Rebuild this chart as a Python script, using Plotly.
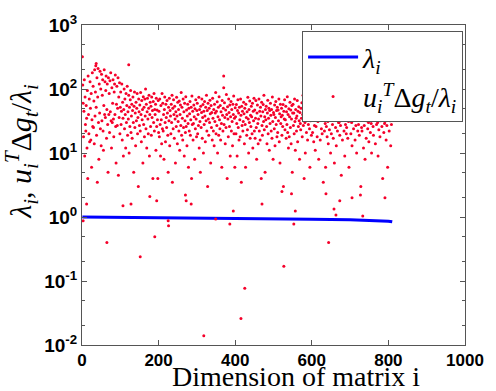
import plotly.graph_objects as go

# Eigenvalue curve (index, value)
lam_idx = [1, 100, 200, 300, 400, 500, 600, 700, 750, 800, 810]
lam_val = [1.0, 0.99, 0.98, 0.97, 0.955, 0.94, 0.925, 0.905, 0.89, 0.86, 0.84]

# Bulk scatter values, one per index 1..810 (rows of 10)
ratio_rows = [
    [320, 115, 60, 18, 45, 140, 9, 75, 28, 22],
    [55, 35, 12, 95, 4, 160, 40, 20, 70, 15],
    [130, 50, 16, 85, 6, 33, 180, 26, 110, 25],
    [65, 14, 200, 38, 90, 230, 52, 19, 150, 3.5],
    [75, 210, 30, 8, 120, 42, 190, 24, 100, 13],
    [170, 32, 80, 140, 22, 11, 55, 200, 40, 130],
    [36, 95, 160, 17, 48, 120, 28, 5, 150, 40],
    [85, 21, 135, 44, 180, 32, 12, 105, 30, 60],
    [140, 34, 18, 90, 120, 40, 165, 26, 7, 58],
    [110, 27, 50, 150, 4.5, 75, 36, 125, 20, 52],
    [90, 28, 45, 120, 16, 62, 35, 9, 48, 100],
    [24, 70, 40, 12, 85, 30, 55, 110, 19, 44],
    [34, 80, 10, 52, 26, 68, 95, 21, 38, 58],
    [17, 46, 75, 30, 5, 54, 90, 25, 42, 13],
    [62, 32, 50, 85, 20, 36, 3, 70, 44, 27],
    [56, 22, 88, 40, 15, 66, 33, 48, 7, 76],
    [28, 52, 18, 70, 38, 100, 24, 58, 12, 44],
    [72, 34, 20, 50, 80, 9, 40, 62, 26, 54],
    [19, 75, 36, 46, 4, 64, 30, 85, 22, 48],
    [40, 58, 11, 72, 26, 47, 33, 4, 66, 21],
    [45, 18, 70, 28, 9, 55, 33, 14, 85, 24],
    [60, 22, 40, 8, 48, 75, 30, 15, 58, 36],
    [25, 66, 42, 19, 5, 52, 32, 72, 13, 46],
    [38, 20, 58, 30, 80, 3.5, 50, 24, 68, 40],
    [17, 54, 34, 7, 44, 26, 74, 38, 14, 62],
    [31, 48, 22, 65, 11, 40, 56, 27, 88, 19],
    [52, 35, 16, 70, 25, 44, 9, 60, 32, 21],
    [76, 26, 47, 13, 38, 58, 29, 6, 50, 22],
    [41, 64, 19, 33, 52, 4, 78, 28, 45, 16],
    [29, 56, 37, 8, 49, 24, 68, 34, 18, 46],
    [60, 20, 40, 27, 74, 12, 48, 31, 5, 54],
    [25, 43, 70, 17, 36, 57, 10, 45, 28, 64],
    [38, 15, 52, 32, 80, 22, 46, 3, 60, 34],
    [19, 50, 30, 67, 41, 7, 55, 25, 43, 16],
    [72, 35, 22, 48, 13, 58, 31, 42, 88, 20],
    [45, 27, 63, 10, 37, 52, 19, 76, 33, 24],
    [55, 16, 44, 29, 6, 66, 39, 22, 50, 105],
    [28, 61, 36, 14, 47, 25, 82, 40, 4, 53],
    [34, 18, 70, 43, 26, 56, 9, 37, 64, 22],
    [48, 31, 13, 58, 40, 78, 20, 35, 6, 51],
    [37, 20, 57, 29, 9, 46, 68, 25, 42, 16],
    [52, 33, 18, 70, 39, 3.5, 54, 27, 45, 22],
    [31, 62, 41, 14, 50, 28, 6, 58, 36, 19],
    [44, 23, 74, 34, 10, 48, 30, 65, 17, 39],
    [26, 54, 37, 20, 60, 12, 45, 32, 72, 22],
    [47, 17, 35, 66, 25, 8, 42, 56, 29, 14],
    [34, 70, 22, 45, 16, 52, 38, 4, 62, 27],
    [19, 44, 57, 31, 80, 23, 37, 5, 48, 33],
    [54, 26, 14, 42, 67, 20, 35, 50, 11, 46],
    [29, 60, 39, 22, 48, 17, 75, 31, 8, 43],
    [40, 24, 56, 13, 36, 64, 28, 46, 18, 52],
    [21, 47, 32, 70, 15, 41, 7, 58, 29, 37],
    [50, 19, 39, 26, 57, 3, 45, 34, 68, 23],
    [33, 54, 17, 44, 28, 76, 21, 40, 12, 49],
    [18, 37, 62, 25, 47, 14, 34, 55, 5, 42],
    [58, 27, 42, 20, 70, 31, 11, 48, 35, 22],
    [38, 66, 15, 45, 26, 53, 32, 8, 43, 29],
    [23, 50, 35, 61, 18, 40, 80, 27, 47, 4],
    [45, 30, 10, 56, 37, 21, 67, 34, 16, 52],
    [28, 42, 60, 24, 6, 48, 32, 74, 19, 39],
    [50, 21, 36, 64, 15, 43, 27, 56, 11, 33],
    [26, 55, 40, 18, 72, 31, 46, 8, 37, 60],
    [44, 16, 33, 52, 24, 80, 20, 39, 58, 3.5],
    [35, 63, 22, 48, 29, 6, 42, 26, 68, 18],
    [54, 31, 14, 41, 50, 23, 36, 74, 10, 46],
    [20, 43, 60, 28, 38, 17, 53, 33, 7, 65],
    [40, 25, 48, 13, 57, 35, 22, 45, 78, 30],
    [30, 52, 19, 67, 27, 41, 4.5, 55, 36, 16],
    [48, 33, 72, 22, 43, 9, 58, 28, 39, 20],
    [25, 62, 40, 17, 50, 31, 6, 45, 70, 35],
    [43, 20, 55, 30, 13, 47, 37, 80, 24, 52],
    [34, 68, 16, 41, 27, 59, 10, 38, 49, 22],
    [57, 28, 45, 19, 72, 34, 50, 3, 37, 25],
    [22, 47, 35, 64, 12, 40, 27, 56, 8, 44],
    [50, 17, 32, 54, 42, 24, 70, 30, 15, 46],
    [37, 60, 21, 48, 29, 10, 52, 39, 78, 26],
    [19, 42, 58, 33, 50, 14, 35, 66, 28, 45],
    [55, 30, 9, 44, 23, 51, 37, 18, 62, 32],
    [40, 70, 26, 49, 4, 34, 57, 21, 43, 29],
    [31, 53, 38, 16, 74, 27, 47, 6, 59, 35],
    [45, 22, 62, 32, 42, 13, 54, 28, 37, 50],
]

# Isolated points read individually (index, value)
extra_idx = [3, 12, 37, 65, 107, 122, 128, 152, 177, 190, 195, 225, 226, 270, 272,
             285, 318, 349, 370, 386, 395, 415, 425, 470, 522, 527, 547, 553, 557,
             637, 644, 658, 663, 673, 705, 727, 733, 791]
extra_val = [0.87, 1.6, 250, 0.4, 1.5, 240, 1.6, 0.24, 2.1, 0.49, 1.8, 0.87, 0.73, 2.2, 1.8,
             1.6, 0.014, 0.93, 160, 0.78, 1.24, 0.026, 0.077, 1.6, 2.5, 0.17, 2.3, 0.78, 1.24,
             2.3, 0.4, 1.33, 1.07, 1.8, 2.0, 2.2, 1.04, 2.0]

ratio_val = [v for row in ratio_rows for v in row]
ratio_idx = list(range(1, len(ratio_val) + 1))
sc_x = ratio_idx + extra_idx
sc_y = ratio_val + extra_val

ytick_vals = [0.01, 0.1, 1, 10, 100, 1000]
ytick_text = ["<b>10<sup>-2</sup></b>", "<b>10<sup>-1</sup></b>", "<b>10<sup>0</sup></b>",
              "<b>10<sup>1</sup></b>", "<b>10<sup>2</sup></b>", "<b>10<sup>3</sup></b>"]
xtick_vals = [0, 200, 400, 600, 800, 1000]

fig = go.Figure()
fig.add_trace(go.Scatter(
    x=lam_idx, y=lam_val, mode="lines",
    line=dict(color="#0000ff", width=3),
    name="<i>λ<sub>i</sub></i>",
))
fig.add_trace(go.Scatter(
    x=sc_x, y=sc_y, mode="markers",
    marker=dict(color="#f5002a", size=3),
    name="<i>u<sub>i</sub><sup>T</sup></i>Δ<i>g<sub>t</sub></i>/<i>λ<sub>i</sub></i>",
))

axis_common = dict(
    showline=True, linecolor="#555555", linewidth=1, mirror="ticks",
    ticks="inside", ticklen=5, tickcolor="#555555",
    showgrid=False, zeroline=False,
)
fig.update_xaxes(
    range=[0, 1000], tickvals=xtick_vals,
    tickfont=dict(family="Liberation Sans", size=17, color="black", weight="bold"),
    **axis_common,
)
fig.update_yaxes(
    type="log", range=[-2, 3], tickvals=ytick_vals, ticktext=ytick_text,
    tickfont=dict(family="Liberation Sans", size=19, color="black"),
    minor=dict(ticks="inside", ticklen=3, tickcolor="#555555", showgrid=False),
    **axis_common,
)

fig.update_layout(
    width=496, height=391,
    margin=dict(l=82, r=24, t=19, b=46),
    paper_bgcolor="white", plot_bgcolor="white",
    showlegend=True,
    legend=dict(
        x=0.995, y=0.98, xanchor="right", yanchor="top",
        bgcolor="white", bordercolor="#555555", borderwidth=1,
        font=dict(family="Liberation Serif", size=28, color="black"),
        tracegroupgap=0, itemwidth=50,
    ),
    annotations=[
        dict(text="Dimension of matrix i", xref="paper", yref="paper",
             x=0.56, y=-0.153, xanchor="center", yanchor="bottom", showarrow=False,
             font=dict(family="Liberation Serif", size=28, color="black")),
        dict(text="<i>λ<sub>i</sub></i>, <i>u<sub>i</sub><sup>T</sup></i>Δ<i>g<sub>t</sub></i>/<i>λ<sub>i</sub></i>",
             xref="paper", yref="paper", x=-0.16, y=0.606, xanchor="center", yanchor="middle",
             textangle=-90, showarrow=False,
             font=dict(family="Liberation Serif", size=30, color="black")),
    ],
)

fig.write_html("out.html")
